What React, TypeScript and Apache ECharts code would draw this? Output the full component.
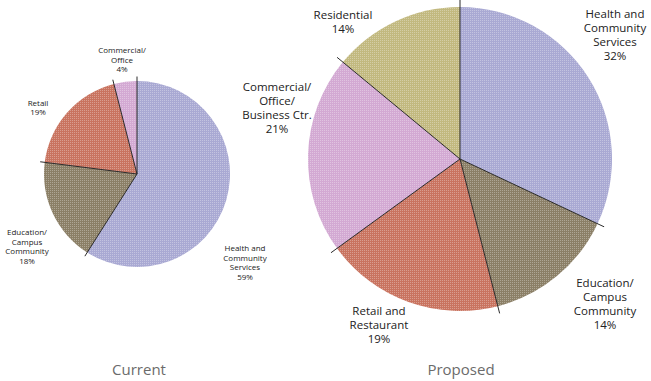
import React, { useEffect, useRef } from "react";
import * as echarts from "echarts";

const currentNames = ["Health and\nCommunity\nServices", "Education/\nCampus\nCommunity", "Retail", "Commercial/\nOffice"];
const currentValues = [59, 18, 19, 4];
const proposedNames = ["Health and\nCommunity\nServices", "Education/\nCampus\nCommunity", "Retail and\nRestaurant", "Commercial/\nOffice/\nBusiness Ctr.", "Residential"];
const proposedValues = [32, 14, 19, 21, 14];
const titles = ["Current", "Proposed"];

const currentColors = ["#a9a9d3", "#8b7f66", "#c9735f", "#d3a9d3"];
const proposedColors = ["#a9a9d3", "#8b7f66", "#c9735f", "#d3a9d3", "#c2b97f"];

// label placement (styling)
const currentLabelPos = [[245, 262], [27, 246], [38, 107], [122, 59]];
const proposedLabelPos = [[615, 34], [605, 303], [379, 324], [277, 107], [343, 21]];

const LEFT = { cx: 137, cy: 174, r: 93 };
const RIGHT = { cx: 460, cy: 159, r: 152 };
const EXT = 1.05;

const decal = {
  symbol: "rect",
  symbolSize: 1,
  dashArrayX: [1, 1],
  dashArrayY: [1, 1],
  color: "rgba(255,255,255,0.3)",
};

function cumulative(vals: number[]) {
  const out: number[] = [];
  let s = 0;
  for (const v of vals) {
    out.push(s);
    s += v;
  }
  return out;
}

export default function App() {
  const ref = useRef<HTMLDivElement>(null);
  useEffect(() => {
    if (!ref.current) return;
    const chart = echarts.init(ref.current, null, { renderer: "svg" });
    const font = "'Open Sans', sans-serif";

    const mkPie = (names: string[], vals: number[], colors: string[], g: any, pos: number[][], fs: number, lh: number) => ({
      type: "pie",
      center: [g.cx, g.cy],
      radius: g.r,
      startAngle: 90,
      clockwise: true,
      avoidLabelOverlap: false,
      silent: true,
      itemStyle: { borderWidth: 0 },
      label: {
        show: true,
        position: "outside",
        formatter: (p: any) => `${p.name}\n${p.value}%`,
        fontFamily: font,
        fontSize: fs,
        lineHeight: lh,
        color: "#222",
        align: "center",
      },
      labelLine: { show: false },
      labelLayout: (p: any) => ({
        x: pos[p.dataIndex][0],
        y: pos[p.dataIndex][1],
        align: "center",
        verticalAlign: "middle",
      }),
      data: names.map((n, i) => ({
        name: n,
        value: vals[i],
        itemStyle: { color: colors[i], decal },
      })),
    });

    const mkLines = (vals: number[], polarIndex: number) =>
      cumulative(vals).map((a) => ({
        type: "line",
        coordinateSystem: "polar",
        polarIndex,
        symbol: "none",
        silent: true,
        lineStyle: { color: "#2a2a2a", width: 1 },
        data: [
          [0, a],
          [EXT, a],
        ],
      }));

    const polarCfg = (g: any) => ({ center: [g.cx, g.cy], radius: g.r * EXT });
    const angleAxisCfg = (i: number) => ({
      polarIndex: i,
      type: "value",
      min: 0,
      max: 100,
      startAngle: 90,
      clockwise: true,
      show: false,
    });
    const radiusAxisCfg = (i: number) => ({
      polarIndex: i,
      type: "value",
      min: 0,
      max: EXT,
      show: false,
    });

    chart.setOption({
      animation: false,
      aria: { enabled: false, decal: { show: true } },
      polar: [polarCfg(LEFT), polarCfg(RIGHT)],
      angleAxis: [angleAxisCfg(0), angleAxisCfg(1)],
      radiusAxis: [radiusAxisCfg(0), radiusAxisCfg(1)],
      graphic: [
        {
          type: "text",
          x: 139,
          y: 369,
          style: { text: titles[0], fill: "#6b6b6b", font: `15px ${font}`, textAlign: "center", textVerticalAlign: "middle" },
        },
        {
          type: "text",
          x: 461,
          y: 369,
          style: { text: titles[1], fill: "#6b6b6b", font: `15px ${font}`, textAlign: "center", textVerticalAlign: "middle" },
        },
      ],
      series: [
        mkPie(currentNames, currentValues, currentColors, LEFT, currentLabelPos, 8, 9.8),
        mkPie(proposedNames, proposedValues, proposedColors, RIGHT, proposedLabelPos, 11.5, 14),
        ...mkLines(currentValues, 0),
        ...mkLines(proposedValues, 1),
      ],
    });
    return () => chart.dispose();
  }, []);
  return (
    <div
      ref={ref}
      style={{ position: "fixed", left: 0, top: 0, width: 651, height: 381, background: "#fff" }}
    />
  );
}
